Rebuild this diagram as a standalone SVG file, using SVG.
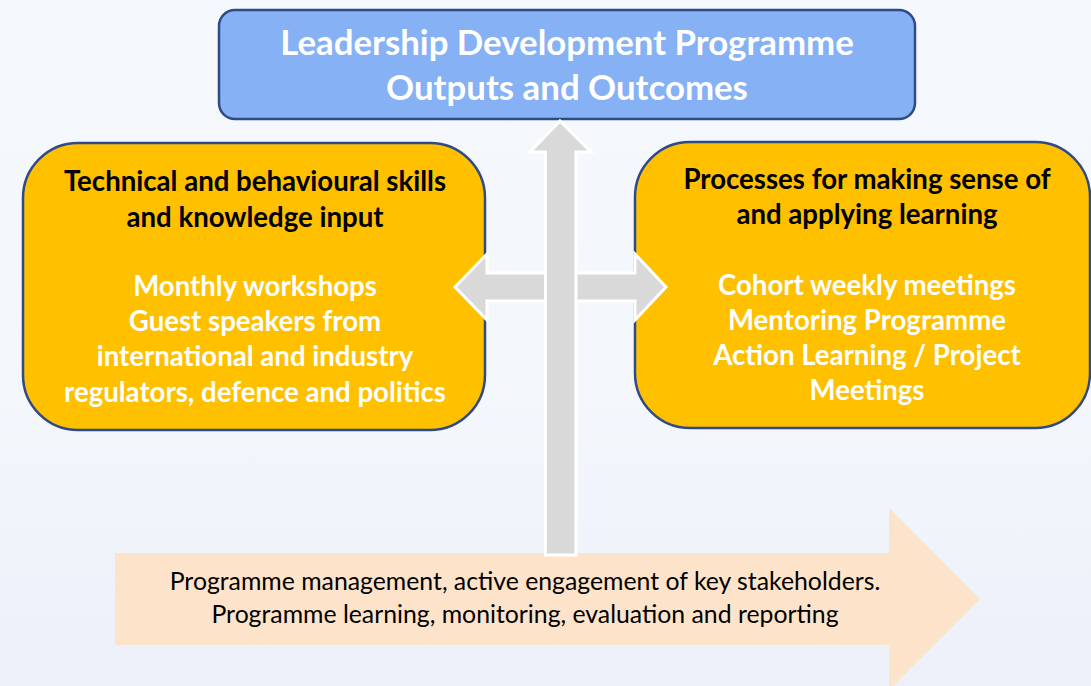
<svg xmlns="http://www.w3.org/2000/svg" width="1091" height="686" viewBox="0 0 1091 686">
<defs>
<linearGradient id="bg" x1="0" y1="0" x2="0" y2="1">
<stop offset="0" stop-color="#F5F9FD"/>
<stop offset="0.6" stop-color="#F3F7FC"/>
<stop offset="1" stop-color="#EBF0F9"/>
</linearGradient>
<style>
.box{stroke:#2F4A86;stroke-width:2.5}
.orange{fill:#FFC000}
.blue{fill:#86B1F5}
.arrow{fill:#D9D9D9;stroke:#FFFFFF;stroke-width:3;stroke-linejoin:miter}
.t{font-family:Lato,"Open Sans","Liberation Sans",sans-serif;text-anchor:middle}
.title{font-size:34.8px;font-weight:bold;fill:#FFFFFF}
.head{font-size:27.6px;font-weight:bold;fill:#000000}
.item{font-size:27.6px;font-weight:bold;fill:#FFFFFF}
.foot{font-size:24.8px;fill:#000000}
</style>
</defs>
<rect x="0" y="0" width="1091" height="686" fill="url(#bg)"/>

<g id="foundation">
<path d="M115,553 H889 V508 L980,599 L889,690 V645 H115 Z" fill="#FDE3CA"/>
<text class="t foot" x="525" y="590">Programme management, active engagement of key stakeholders.</text>
<text class="t foot" x="525" y="623">Programme learning, monitoring, evaluation and reporting</text>
</g>

<g id="outcomes">
<rect class="box blue" x="219" y="10" width="696" height="109" rx="16"/>
<text class="t title" x="567" y="55">Leadership Development Programme</text>
<text class="t title" x="567" y="100">Outputs and Outcomes</text>
</g>

<g id="skills">
<rect class="box orange" x="23" y="143" width="462" height="287" rx="55"/>
<text class="t head" x="255" y="191">Technical and behavioural skills</text>
<text class="t head" x="255" y="227">and knowledge input</text>
<text class="t item" x="255" y="296">Monthly workshops</text>
<text class="t item" x="255" y="331">Guest speakers from</text>
<text class="t item" x="255" y="366">international and industry</text>
<text class="t item" x="255" y="402">regulators, defence and politics</text>
</g>

<g id="processes">
<rect class="box orange" x="635" y="142" width="455" height="286" rx="55"/>
<text class="t head" x="867" y="189">Processes for making sense of</text>
<text class="t head" x="867" y="224">and applying learning</text>
<text class="t item" x="867" y="295">Cohort weekly meetings</text>
<text class="t item" x="867" y="330">Mentoring Programme</text>
<text class="t item" x="867" y="365">Action Learning / Project</text>
<text class="t item" x="867" y="400">Meetings</text>
</g>

<g id="connectors">
<path class="arrow" d="M455,287 L487,254 V273 H635 V254 L666,287 L635,320 V301 H487 V320 Z"/>
<path class="arrow" d="M560,121 L591,152 H576 V555 H545.5 V152 H530 Z"/>
</g>
</svg>
